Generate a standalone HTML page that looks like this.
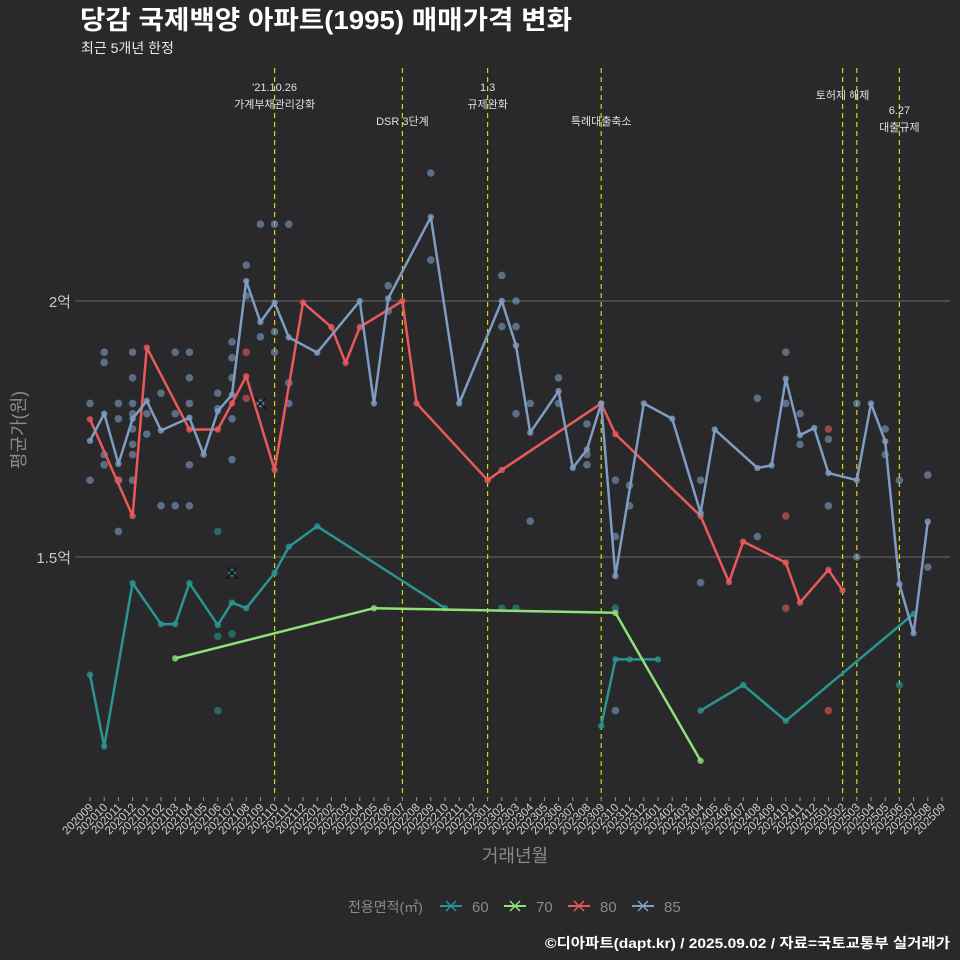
<!DOCTYPE html>
<html><head><meta charset="utf-8"><style>
html,body{margin:0;padding:0;background:#29292b;}
svg{display:block;font-family:"Liberation Sans","Noto Sans CJK KR",sans-serif;}
</style></head><body>
<svg id="chart" width="960" height="960" viewBox="0 0 960 960">
<rect x="0" y="0" width="960" height="960" fill="#29292b"/>
<text x="80" y="29" fill="#ffffff" font-size="26" font-weight="bold" textLength="492" lengthAdjust="spacingAndGlyphs">당감 국제백양 아파트(1995) 매매가격 변화</text>
<text x="81" y="53" fill="#e8e8e8" font-size="14">최근 5개년 한정</text>
<g id="grid"></g><g id="events"></g><g id="dots"></g><g id="lines"></g><g id="xaxis"></g>
<text x="25" y="430" fill="#8a8a8a" font-size="18" transform="rotate(-90 25 430)" text-anchor="middle">평균가(원)</text>
<text x="515" y="862" fill="#8a8a8a" font-size="18" text-anchor="middle">거래년월</text>
<g id="legend">
<text x="348" y="912" fill="#8a8a8a" font-size="14">전용면적(㎡)</text>
</g>
<text x="950" y="948" fill="#ffffff" font-size="14" font-weight="bold" text-anchor="end" textLength="405" lengthAdjust="spacingAndGlyphs">©디아파트(dapt.kr) / 2025.09.02 / 자료=국토교통부 실거래가</text>
</svg>
<script>
const months = [];
for (let y = 2020, m = 9; months.length < 61; ) { months.push(String(y) + String(m).padStart(2,'0')); m++; if (m > 12) { m = 1; y++; } }
const yTicks = [15000, 20000];
const yTickLabels = ['1.5억', '2억'];
const seriesNames = ['60', '70', '80', '85'];
const seriesColors = ['#2a9590', '#8fe07a', '#e85a5a', '#7f9cc2'];
const idx60 = [0,1,3,5,6,7,9,10,11,13,14,16,25,null,36,37,38,40,null,43,46,49,58];
const val60 = [12700,11300,14490,13690,13690,14490,13670,14110,14000,14690,15200,15600,14000,null,11700,13000,13000,13000,null,12000,12500,11800,13890];
const idx70 = [6,20,37,43];
const val70 = [13020,14000,13910,11020];
const idx80 = [0,3,4,7,9,10,11,13,15,17,18,19,22,23,28,29,36,37,43,45,46,49,50,52,53];
const val80 = [17690,15800,19090,17490,17490,18000,18530,16700,19970,19490,18790,19490,20000,18000,16500,16700,18000,17400,15800,14510,15300,14890,14110,14750,14350];
const idx85 = [0,1,2,3,4,5,7,8,9,10,11,12,13,14,16,19,20,21,24,26,29,30,31,33,34,35,36,37,39,41,43,44,47,48,49,50,51,52,54,55,56,57,58,59];
const val85 = [17270,17800,16820,17700,18050,17470,17720,17000,17850,18170,20390,19590,19970,19290,18990,20000,18000,20050,21640,18000,20000,19130,17430,18240,16740,17100,18000,14630,18000,17700,15860,17490,16740,16790,18480,17380,17520,16640,16500,18000,17260,14470,13510,15690];
const dot85i = [1,1,3,6,7,3,7,10,10,10,9,5,0,2,3,7,9,3,4,6,2,10,3,3,4,1,3,1,7,10,0,2,3,5,6,7,2,11,12,13,14,11,12,13,13,14,14,21,21,24,24,29,29,30,30,30,31,33,33,35,35,35,31,37,38,38,37,37,43,43,47,47,49,49,50,50,52,52,54,54,56,56,57,59,59];
const dot85v = [19000,18800,19000,19000,19000,18500,18500,19200,18890,18500,18200,18200,18000,18000,18000,18000,17900,17800,17800,17800,17700,17700,17500,17200,17400,17000,17000,16800,16800,16900,16500,16500,16500,16000,16000,16000,15500,20700,21500,21500,21500,20100,19300,19400,19000,18400,18000,20300,19800,22500,20800,20500,19500,20000,19500,17800,18000,18500,18000,17600,17000,16800,15700,16500,16400,16000,15400,12000,16500,14500,18100,15400,19000,18000,17800,17200,17300,16000,18000,15000,17500,17000,16500,16600,14800];
const dot80i = [11,11,52,49,49,52,2];
const dot80v = [19000,18100,17500,15800,14000,12000,16500];
const dot60i = [9,9,10,9,29,30,57,37];
const dot60v = [15500,13450,13500,12000,14000,14000,12500,14000];
const crossIdx = [10, 12];
const crossVal = [14690, 18000];
const crossSeries = [0, 3];
const eventIdx = [13,22,28,36,53,54,57];
const eventLabels = [["'21.10.26","가계부채관리강화"],["DSR 3단계"],["1.3","규제완화"],["특례대출축소"],["토허제 해제"],[],["6.27","대출규제"]];
const eventLabelY = [91,125,91,125,99,0,114];

const NS = 'http://www.w3.org/2000/svg';
const xS = i => 90 + i * (852 / 60);
const yS = v => 301 + (20000 - v) * 0.0512;
function mk(tag, attrs, parent) { const e = document.createElementNS(NS, tag); for (const k in attrs) e.setAttribute(k, attrs[k]); parent.appendChild(e); return e; }
const G = id => document.getElementById(id);

yTicks.forEach((t, k) => {
  const l = mk('line', {x1: 75, x2: 950, y1: yS(t), y2: yS(t), stroke: '#6a6a6a', 'stroke-width': 1}, G('grid'));
  
  
  const tx = mk('text', {x: 71, y: yS(t) + 6, fill: '#c8c8c8', 'font-size': 15, 'text-anchor': 'end'}, G('grid'));
  tx.textContent = yTickLabels[k];
  
  
});

eventIdx.forEach((ei, k) => {
  const x = xS(ei);
  const l = mk('line', {x1: x, x2: x, y1: 68, y2: 798, stroke: '#d8d800', 'stroke-width': 1.2, 'stroke-dasharray': '5,4'}, G('events'));
  
  
  eventLabels[k].forEach((s, j) => {
    const t = mk('text', {x: x, y: eventLabelY[k] + j * 17, fill: '#e0e0e0', 'font-size': 11, 'text-anchor': 'middle'}, G('events'));
    t.textContent = s;
    
    
  });
});

function dots(ii, vv, color) {
  ii.forEach((i, k) => {
    const c = mk('circle', {cx: xS(i), cy: yS(vv[k]), r: 3.8, fill: color, 'fill-opacity': 0.6}, G('dots'));
    
    
  });
}
dots(dot85i, dot85v, seriesColors[3]);
dots(dot80i, dot80v, seriesColors[2]);
dots(dot60i, dot60v, seriesColors[0]);

crossIdx.forEach((i, k) => {
  const x = xS(i), y = yS(crossVal[k]);
  const g = mk('g', {}, G('dots'));
  
  
  mk('circle', {cx: x, cy: y, r: 4, fill: seriesColors[crossSeries[k]], 'fill-opacity': 0.6}, g);
  mk('line', {x1: x - 6, x2: x + 6, y1: y - 6, y2: y + 6, stroke: '#111', 'stroke-width': 1.3}, g);
  mk('line', {x1: x - 6, x2: x + 6, y1: y + 6, y2: y - 6, stroke: '#111', 'stroke-width': 1.3}, g);
});

function series(ii, vv, color, name) {
  let segs = [[]];
  ii.forEach((i, k) => { if (i === null) segs.push([]); else segs[segs.length - 1].push([xS(i), yS(vv[k])]); });
  segs.forEach(s => {
    if (s.length < 2) return;
    const p = mk('polyline', {points: s.map(q => q.join(',')).join(' '), fill: 'none', stroke: color, 'stroke-width': 2.5, 'stroke-linejoin': 'round'}, G('lines'));
    
    
    s.forEach(q => {
      const c = mk('circle', {cx: q[0], cy: q[1], r: 3.2, fill: color, 'fill-opacity': 0.8}, G('lines'));
      
      
    });
  });
}
series(idx60, val60, seriesColors[0], '60');
series(idx70, val70, seriesColors[1], '70');
series(idx80, val80, seriesColors[2], '80');
series(idx85, val85, seriesColors[3], '85');

months.forEach((m, i) => {
  const x = xS(i);
  const l = mk('line', {x1: x, x2: x, y1: 797, y2: 801, stroke: '#999', 'stroke-width': 1}, G('xaxis'));
  
  
  const t = mk('text', {x: x + 4, y: 808, fill: '#cfcfcf', 'font-size': 11.5, 'text-anchor': 'end', transform: 'rotate(-45 ' + (x + 4) + ' 808)'}, G('xaxis'));
  t.textContent = m;
  
  
});

seriesNames.forEach((n, k) => {
  const x0 = 440 + k * 64;
  const g = mk('g', {}, G('legend'));
  
  
  mk('line', {x1: x0, x2: x0 + 22, y1: 906, y2: 906, stroke: seriesColors[k], 'stroke-width': 2}, g);
  mk('line', {x1: x0 + 6, x2: x0 + 16, y1: 901, y2: 911, stroke: seriesColors[k], 'stroke-width': 1.5}, g);
  mk('line', {x1: x0 + 6, x2: x0 + 16, y1: 911, y2: 901, stroke: seriesColors[k], 'stroke-width': 1.5}, g);
  const t = mk('text', {x: x0 + 32, y: 912, fill: '#8a8a8a', 'font-size': 15}, g);
  t.textContent = n;
});
</script>
</body></html>
